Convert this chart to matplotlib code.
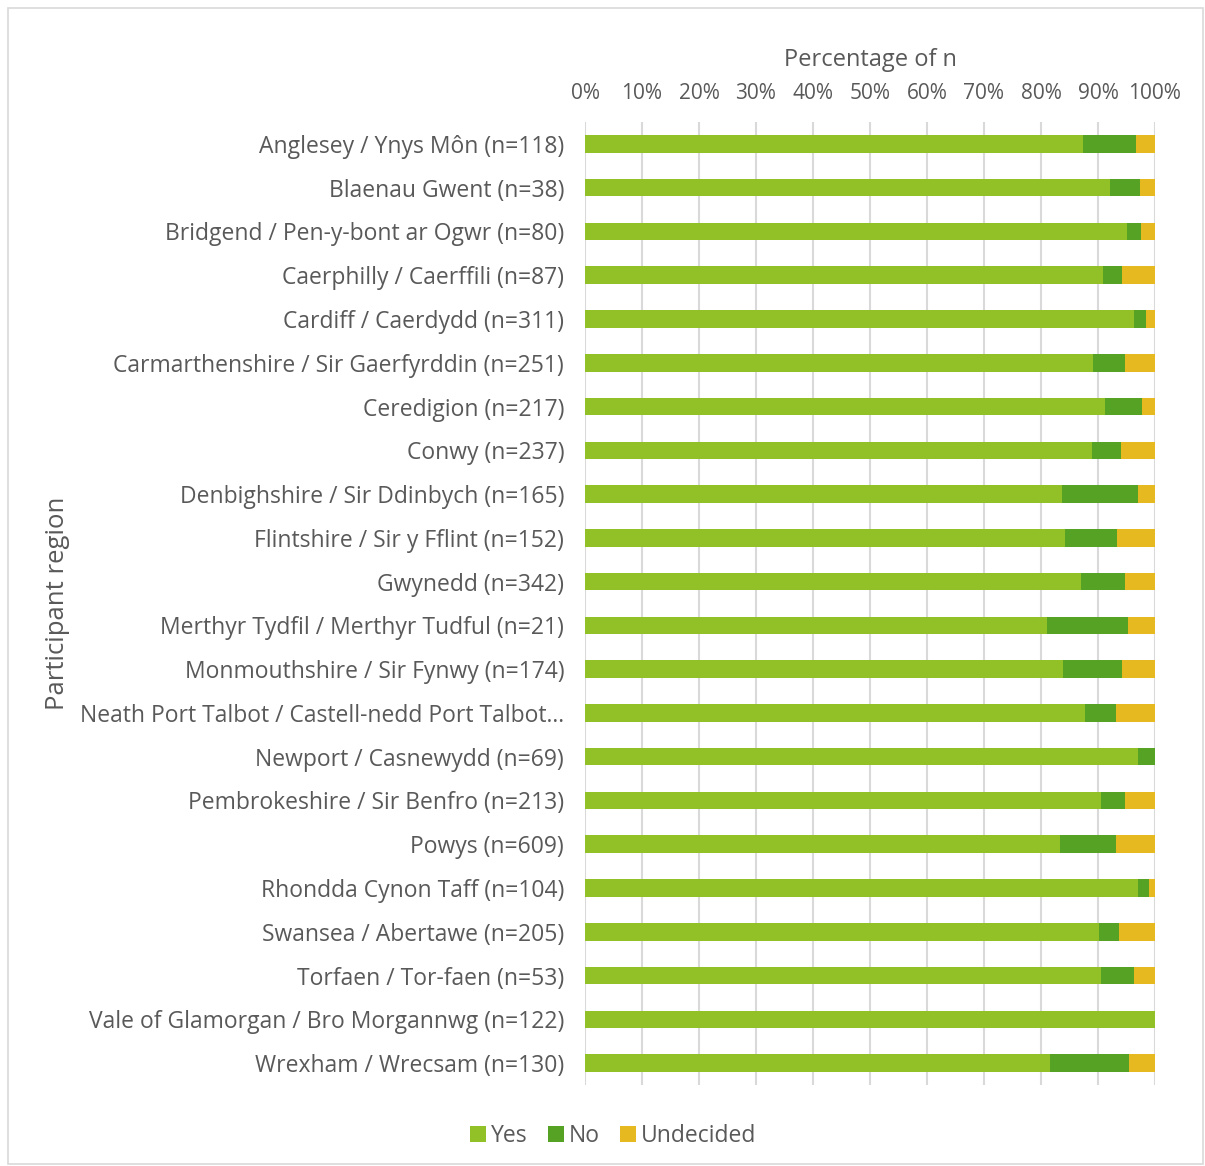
import numpy as np
import matplotlib.pyplot as plt
from matplotlib.patches import Rectangle

regions = [
    "Anglesey / Ynys Môn (n=118)",
    "Blaenau Gwent (n=38)",
    "Bridgend / Pen-y-bont ar Ogwr (n=80)",
    "Caerphilly / Caerffili (n=87)",
    "Cardiff / Caerdydd (n=311)",
    "Carmarthenshire / Sir Gaerfyrddin (n=251)",
    "Ceredigion (n=217)",
    "Conwy (n=237)",
    "Denbighshire / Sir Ddinbych (n=165)",
    "Flintshire / Sir y Fflint (n=152)",
    "Gwynedd (n=342)",
    "Merthyr Tydfil / Merthyr Tudful (n=21)",
    "Monmouthshire / Sir Fynwy (n=174)",
    "Neath Port Talbot / Castell-nedd Port Talbot…",
    "Newport / Casnewydd (n=69)",
    "Pembrokeshire / Sir Benfro (n=213)",
    "Powys (n=609)",
    "Rhondda Cynon Taff (n=104)",
    "Swansea / Abertawe (n=205)",
    "Torfaen / Tor-faen (n=53)",
    "Vale of Glamorgan / Bro Morgannwg (n=122)",
    "Wrexham / Wrecsam (n=130)",
]

yes = [87.3, 92.1, 95.0, 90.8, 96.3, 89.2, 91.2, 89.0, 83.6, 84.2, 87.1,
       81.0, 83.9, 87.7, 97.1, 90.6, 83.3, 97.1, 90.2, 90.6, 100.0, 81.5]
no = [9.4, 5.3, 2.5, 3.4, 2.1, 5.6, 6.5, 5.1, 13.4, 9.2, 7.6,
      14.3, 10.3, 5.5, 2.9, 4.2, 9.9, 1.9, 3.5, 5.7, 0.0, 13.9]
undecided = [3.3, 2.6, 2.5, 5.8, 1.6, 5.2, 2.3, 5.9, 3.0, 6.6, 5.3,
             4.7, 5.8, 6.8, 0.0, 5.2, 6.8, 1.0, 6.3, 3.7, 0.0, 4.6]

col_yes = '#92C127'
col_no = '#55A225'
col_und = '#E7B920'
txt = '#595959'

plt.rcParams['font.family'] = ['Open Sans', 'DejaVu Sans']

fig = plt.figure(figsize=(12.05, 11.66), dpi=100)
ax = fig.add_axes([585 / 1205, 1 - 1085 / 1166, 570 / 1205, 963 / 1166])

y = np.arange(len(regions))
yes_a = np.array(yes)
no_a = np.array(no)
und_a = np.array(undecided)
h = 0.4
ax.barh(y, yes_a, height=h, color=col_yes, label='Yes', zorder=3)
ax.barh(y, no_a, left=yes_a, height=h, color=col_no, label='No', zorder=3)
ax.barh(y, und_a, left=yes_a + no_a, height=h, color=col_und, label='Undecided', zorder=3)

ax.set_xlim(0, 100)
ax.set_ylim(len(regions) - 0.5, -0.5)
ax.set_xticks(np.arange(0, 101, 10))
ax.set_xticklabels([f'{v}%' for v in range(0, 101, 10)])
ax.xaxis.tick_top()
ax.xaxis.set_label_position('top')
ax.tick_params(axis='x', length=0, pad=13, labelsize=15, labelcolor=txt)
ax.set_yticks(y)
ax.set_yticklabels(regions)
ax.tick_params(axis='y', length=0, pad=15, labelsize=16.5, labelcolor=txt)
ax.grid(axis='x', color='#d9d9d9', linewidth=1.5, zorder=0)
for s in ax.spines.values():
    s.set_visible(False)

ax.set_xlabel('Percentage of n', fontsize=17, color=txt, labelpad=12)
fig.text(57 / 1205, 1 - 603 / 1166, 'Participant region', rotation=90,
         fontsize=18.5, color=txt, ha='center', va='center')

leg = fig.legend(loc='center', bbox_to_anchor=(613 / 1205, 1 - 1136 / 1166),
                 ncol=3, frameon=False, fontsize=16.5, handlelength=0.7,
                 handleheight=0.7, handletextpad=0.2, columnspacing=0.9)
for t in leg.get_texts():
    t.set_color(txt)

fig.patches.append(Rectangle((8 / 1205, 0.002), 1 - 10 / 1205, 1 - 10 / 1166,
                             transform=fig.transFigure, fill=False,
                             edgecolor='#d9d9d9', linewidth=1.2))

fig.savefig('out.png', dpi=100)
